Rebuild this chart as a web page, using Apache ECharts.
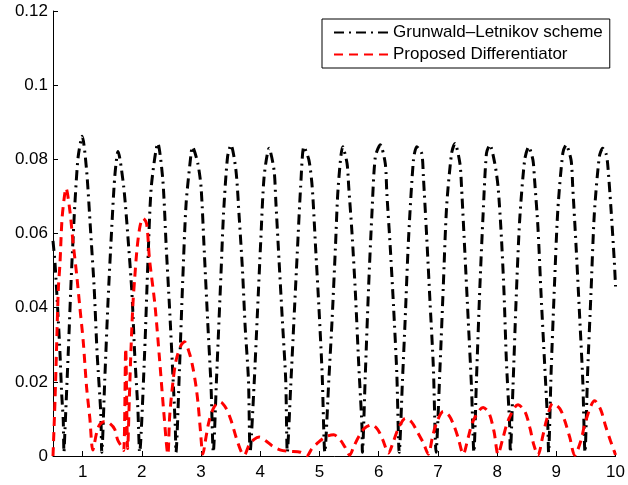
<!DOCTYPE html>
<html><head><meta charset="utf-8">
<script src="https://cdn.jsdelivr.net/npm/echarts@6/dist/echarts.min.js"></script>
<style>html,body{margin:0;padding:0;background:#fff}#c{width:628px;height:485px}</style>
</head><body><div id="c"></div>
<script>
const seriesNames = ['Grunwald\u2013Letnikov scheme', 'Proposed Differentiator'];
const xTicks = [1, 2, 3, 4, 5, 6, 7, 8, 9, 10];

const glX = [0.5,0.534,0.589,0.618,0.646,0.673,0.685,
0.702,0.757,0.814,0.870,0.925,0.993,1.067,1.134,1.194,1.245,1.307,1.324,
1.374,1.430,1.487,1.543,1.598,1.694,1.778,1.833,1.879,1.934,1.963,
2.047,2.102,2.160,2.271,2.355,2.412,2.467,2.523,2.565,2.577,
2.635,2.691,2.748,2.832,2.854,2.945,3.000,3.056,3.111,3.169,3.207,
3.263,3.337,3.380,3.448,3.505,3.589,3.644,3.700,3.745,3.801,3.829,
3.897,3.952,4.009,4.065,4.149,4.233,4.262,4.317,4.373,4.430,4.457,
4.514,4.569,4.625,4.682,4.737,4.822,4.877,4.934,4.990,5.045,5.091,
5.158,5.213,5.270,5.314,5.393,5.466,5.494,5.550,5.607,5.662,5.718,5.725,
5.775,5.830,5.886,5.943,6.027,6.111,6.138,6.195,6.251,6.306,6.347,
6.402,6.447,6.503,6.587,6.643,6.727,6.755,6.811,6.868,6.923,6.969,
7.036,7.091,7.147,7.231,7.288,7.372,7.399,7.456,7.512,7.567,7.608,
7.651,7.709,7.764,7.820,7.877,7.961,8.016,8.072,8.117,8.156,8.213,8.223,
8.268,8.323,8.381,8.465,8.533,8.605,8.633,8.689,8.744,8.802,8.857,8.869,
8.913,8.970,9.025,9.109,9.165,9.249,9.277,9.334,9.391,9.446,9.484,
9.530,9.585,9.642,9.726,9.782,9.838,9.866,9.921,9.978,10.0];

const glY = [0.058,0.052,0.0367,0.0277,0.0169,0.0097,0.001,
0.007,0.0277,0.0502,0.0681,0.0807,0.0862,0.0771,0.0609,0.0457,0.0277,0.0115,0.001,
0.0205,0.042,0.060,0.0753,0.0821,0.0726,0.0564,0.0439,0.0277,0.0124,0.001,
0.0277,0.052,0.0726,0.0843,0.0744,0.0564,0.0403,0.0223,0.0079,0.001,
0.0232,0.0474,0.0681,0.0816,0.0834,0.0789,0.0726,0.0547,0.0367,0.0187,0.001,
0.0214,0.0492,0.0654,0.0807,0.0839,0.0771,0.0645,0.0501,0.0349,0.0205,0.001,
0.0196,0.0385,0.0582,0.0753,0.083,0.0771,0.069,0.0528,0.0367,0.0205,0.001,
0.0187,0.0367,0.0547,0.0726,0.0834,0.0798,0.0726,0.0564,0.0403,0.0223,0.001,
0.0205,0.0367,0.0564,0.072,0.0834,0.0789,0.0726,0.060,0.0439,0.025,0.0079,0.001,
0.0223,0.0457,0.0654,0.0807,0.0839,0.0789,0.0708,0.0564,0.0403,0.0223,0.001,
0.0205,0.0367,0.0582,0.0798,0.0834,0.0816,0.0753,0.0591,0.0412,0.0241,0.001,
0.0241,0.0457,0.0672,0.0816,0.0843,0.0789,0.0726,0.0547,0.0367,0.0187,0.001,
0.0205,0.0457,0.0654,0.0816,0.0839,0.0789,0.0726,0.0591,0.0439,0.0259,0.0079,0.001,
0.0187,0.043,0.0636,0.0798,0.0834,0.0798,0.0744,0.0618,0.043,0.025,0.0079,0.001,
0.0232,0.0466,0.0663,0.0816,0.0839,0.0798,0.0726,0.0564,0.0385,0.0205,0.001,
0.0232,0.0439,0.0654,0.0807,0.083,0.0816,0.0789,0.0672,0.0528,0.0457];

const pdX = [0.5,0.534,0.56,0.59,0.618,0.651,0.685,0.719,
0.786,0.836,0.899,0.954,1.010,1.067,1.122,1.173,
1.240,1.29,1.374,1.458,1.543,1.593,1.66,1.694,
1.728,1.761,
1.79,1.82,1.85,1.88,1.92,1.97,2.02,
2.08,2.13,2.22,2.30,2.37,2.44,
2.47,2.523,2.58,2.664,2.72,2.804,2.859,2.916,2.955,2.989,3.031,
3.085,3.14,3.224,3.325,3.425,3.505,3.589,3.678,3.728,
3.813,3.897,3.981,4.093,4.204,4.345,4.485,4.682,4.788,
4.872,4.99,5.107,5.242,5.343,5.427,5.511,
5.578,5.662,5.763,5.88,5.981,6.066,6.166,
6.25,6.334,6.452,6.553,6.654,6.755,6.839,
6.907,6.974,7.092,7.192,7.276,7.344,7.428,
7.512,7.596,7.764,7.865,7.949,8.016,
8.101,8.185,8.353,8.47,8.555,8.62,8.689,
8.773,8.84,8.941,9.059,9.143,9.227,9.311,
9.412,9.497,9.648,9.749,9.833,9.917,10.0];

const pdY = [0.0,0.015,0.029,0.045,0.052,0.0636,0.069,0.0722,
0.066,0.058,0.049,0.040,0.031,0.0186,0.0102,0.0016,
0.0065,0.0085,0.0093,0.0088,0.0072,0.0043,0.0025,0.0015,
0.029,0.002,
0.016,0.030,0.041,0.048,0.056,0.062,0.0641,
0.0627,0.053,0.041,0.026,0.012,0.0005,
0.0106,0.0196,0.0259,0.0299,0.0308,0.0277,0.0241,0.0187,0.0133,0.007,0.0005,
0.0052,0.0097,0.0133,0.0146,0.0128,0.0097,0.0052,0.0012,0.0002,
0.003,0.0045,0.0051,0.0041,0.0027,0.0016,0.0013,0.001,0.0001,
0.002,0.0038,0.0052,0.0057,0.0045,0.0025,0.0002,
0.0025,0.0052,0.0075,0.0084,0.0072,0.0045,0.0008,
0.004,0.0075,0.0102,0.0092,0.0065,0.0035,0.0005,
0.005,0.0088,0.012,0.0108,0.008,0.0048,0.0005,
0.005,0.0095,0.0131,0.0115,0.0065,0.0005,
0.005,0.0095,0.0138,0.012,0.0075,0.003,0.0002,
0.0055,0.01,0.0142,0.0128,0.0095,0.005,0.0002,
0.004,0.0095,0.0149,0.0125,0.008,0.004,0.0003];

const FONT = '"Liberation Sans", Arial, Helvetica, sans-serif';
const zip = (xs, ys) => xs.map((x, i) => [x, ys[i]]);

const chart = echarts.init(document.getElementById('c'), null, { renderer: 'canvas' });
chart.setOption({
  animation: false,
  backgroundColor: '#fff',
  grid: { left: 53, right: 10, top: 11, bottom: 29 },
  xAxis: {
    type: 'value', min: 0.5, max: 10,
    axisLine: { show: true, onZero: false, lineStyle: { color: '#000', width: 1 } },
    axisTick: { show: true, inside: true, length: 5, customValues: xTicks, lineStyle: { color: '#000' } },
    axisLabel: { customValues: xTicks, color: '#000', fontSize: 17, fontFamily: FONT, margin: 8 },
    splitLine: { show: false }
  },
  yAxis: {
    type: 'value', min: 0, max: 0.12, interval: 0.02,
    axisLine: { show: true, lineStyle: { color: '#000', width: 1 } },
    axisTick: { show: true, inside: true, length: 5, lineStyle: { color: '#000' } },
    axisLabel: { color: '#000', fontSize: 17, fontFamily: FONT, margin: 5,
      formatter: v => String(+v.toFixed(2)) },
    splitLine: { show: false }
  },
  legend: {
    orient: 'vertical', left: 322, top: 19,
    padding: [5, 7, 5, 11], itemGap: 5, itemWidth: 54, itemHeight: 17,
    borderColor: '#000', borderWidth: 1, backgroundColor: '#fff',
    itemStyle: { opacity: 0 },
    textStyle: { fontSize: 17, fontFamily: FONT, color: '#000', lineHeight: 17 },
    data: seriesNames
  },
  series: [
    { name: seriesNames[0], type: 'line', data: zip(glX, glY), symbol: 'none', smooth: 0.25,
      lineStyle: { color: '#000', width: 3, type: [10, 5, 2, 5] }, itemStyle: { color: '#000' } },
    { name: seriesNames[1], type: 'line', data: zip(pdX, pdY), symbol: 'none', smooth: 0.3,
      lineStyle: { color: '#ff0000', width: 3, type: [9, 6] }, itemStyle: { color: '#ff0000' } }
  ]
});
</script></body></html>
